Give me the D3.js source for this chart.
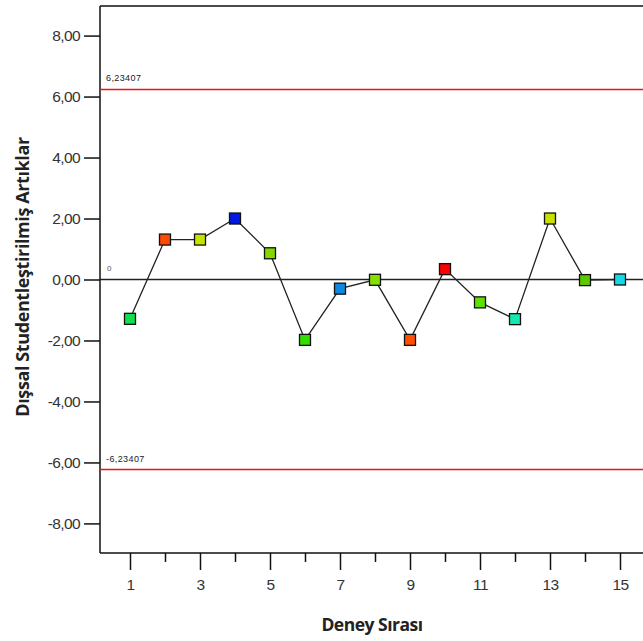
<!DOCTYPE html>
<html>
<head>
<meta charset="utf-8">
<script src="https://cdn.jsdelivr.net/npm/d3@7"></script>
<style>
  html, body { margin: 0; padding: 0; background: #fff; }
  svg { display: block; }
</style>
</head>
<body>
<svg id="chart" width="643" height="641"></svg>
<script>
// Run order and externally studentized residuals
const runs = [1, 2, 3, 4, 5, 6, 7, 8, 9, 10, 11, 12, 13, 14, 15];
const residuals = [-1.29, 1.31, 1.31, 2.0, 0.86, -1.98, -0.3, -0.01, -1.98, 0.34, -0.75, -1.3, 2.0, -0.02, 0.0];
const pointColors = ["#10e050", "#ff4800", "#c4e400", "#0018e0", "#84d800", "#34dc00", "#1088e0",
                     "#84e000", "#ff5000", "#ff0000", "#60e000", "#14e8b0", "#c8e000", "#5cc800", "#14d8e8"];
const yTicks = [8, 6, 4, 2, 0, -2, -4, -6, -8];
const xMajorTicks = [1, 3, 5, 7, 9, 11, 13, 15];
const xMinorTicks = [2, 4, 6, 8, 10, 12, 14];
const limit = 6.23407;
const limitLabels = ["6,23407", "-6,23407"];
const xTitle = "Deney Sırası";
const yTitle = "Dışsal Studentleştirilmiş Artıklar";

const svg = d3.select("#chart");
const plotLeft = 100, plotTop = 6, plotBottom = 553, plotRight = 680;

const x = d3.scaleLinear().domain([0.143, 17.2]).range([plotLeft, plotLeft + (17.2 - 0.143) * 35]);
const y = d3.scaleLinear().domain([-8.97, 8.97]).range([plotBottom, plotTop]);

// Decimal comma and plain hyphen for negatives
const fmt = v => d3.format(".2f")(v).replace(".", ",").replace("\u2212", "-");
const labelFont = "'Liberation Sans', Arial, sans-serif";
const titleFont = "'Open Sans', sans-serif";

// Frame: top edge
svg.append("line").attr("x1", plotLeft).attr("x2", plotRight).attr("y1", plotTop).attr("y2", plotTop)
  .attr("stroke", "#111").attr("stroke-width", 1.5);

// Y axis
const yAxis = svg.append("g").attr("transform", `translate(${plotLeft},0)`)
  .call(d3.axisLeft(y).tickValues(yTicks).tickSize(16).tickPadding(4).tickFormat(fmt));
yAxis.select(".domain").attr("stroke", "#111").attr("stroke-width", 1.5)
  .attr("d", `M0,${plotTop}V${plotBottom}`);
yAxis.selectAll(".tick line").attr("stroke", "#111").attr("stroke-width", 1.5);
yAxis.selectAll(".tick text").attr("fill", "#333")
  .style("font-family", labelFont).style("font-size", "15.5px")
  .attr("letter-spacing", "-0.6");

// X axis: labelled odd runs, shorter unlabelled even runs
const xAxis = svg.append("g").attr("transform", `translate(0,${plotBottom})`)
  .call(d3.axisBottom(x).tickValues(xMajorTicks).tickSize(17).tickPadding(9).tickFormat(d3.format("d")));
xAxis.select(".domain").attr("stroke", "#111").attr("stroke-width", 1.5)
  .attr("d", `M${plotLeft},0H${plotRight}`);
xAxis.selectAll(".tick line").attr("stroke", "#111").attr("stroke-width", 1.5);
xAxis.selectAll(".tick text").attr("fill", "#333")
  .style("font-family", labelFont).style("font-size", "15.5px").attr("letter-spacing", "-0.6");
const xMinor = svg.append("g").attr("transform", `translate(0,${plotBottom})`)
  .call(d3.axisBottom(x).tickValues(xMinorTicks).tickSize(9).tickFormat(""));
xMinor.select(".domain").remove();
xMinor.selectAll(".tick line").attr("stroke", "#111").attr("stroke-width", 1.5);

// Zero reference line
svg.append("line").attr("x1", plotLeft).attr("x2", plotRight).attr("y1", y(0)).attr("y2", y(0))
  .attr("stroke", "#222").attr("stroke-width", 1.5);
svg.append("text").attr("x", plotLeft + 7).attr("y", y(0) - 9).text("0")
  .attr("fill", "#555").style("font-family", labelFont).style("font-size", "8px");

// Control limits
[limit, -limit].forEach((v, i) => {
  svg.append("line").attr("x1", plotLeft).attr("x2", plotRight).attr("y1", y(v)).attr("y2", y(v))
    .attr("stroke", "#ee1111").attr("stroke-width", 1.5);
  svg.append("text").attr("x", plotLeft + 6).attr("y", y(v) - 8).text(limitLabels[i])
    .attr("fill", "#222").style("font-family", labelFont)
    .style("font-size", "9px").attr("letter-spacing", "0.4");
});

// Connecting line
const pts = runs.map((r, i) => ({ r, v: residuals[i], c: pointColors[i] }));
svg.append("path").datum(pts)
  .attr("fill", "none").attr("stroke", "#222").attr("stroke-width", 1.3)
  .attr("d", d3.line().x(d => x(d.r)).y(d => y(d.v)));

// Markers
const s = 11;
svg.selectAll("rect.pt").data(pts).enter().append("rect").attr("class", "pt")
  .attr("x", d => x(d.r) - s / 2).attr("y", d => y(d.v) - s / 2)
  .attr("width", s).attr("height", s)
  .attr("fill", d => d.c).attr("stroke", "#111").attr("stroke-width", 1.3);

// Axis titles
svg.append("text").attr("x", 372).attr("y", 631).attr("text-anchor", "middle").text(xTitle)
  .attr("fill", "#222").style("font-family", titleFont).style("font-weight", "bold")
  .style("font-size", "17.5px").attr("letter-spacing", "-0.5");
svg.append("text").attr("transform", `translate(29,277) rotate(-90)`).attr("text-anchor", "middle").text(yTitle)
  .attr("fill", "#222").style("font-family", titleFont).style("font-weight", "bold")
  .style("font-size", "18px").attr("letter-spacing", "-0.4");
</script>
</body>
</html>
